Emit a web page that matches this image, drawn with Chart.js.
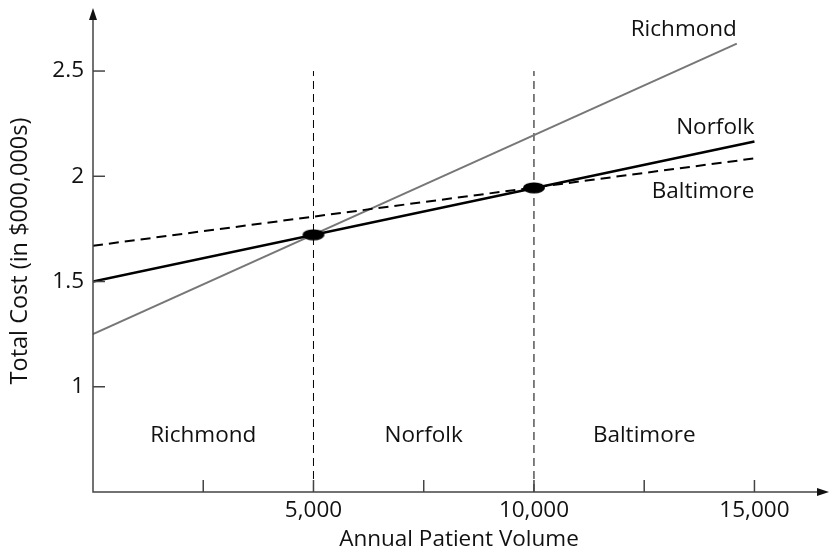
<!DOCTYPE html>
<html>
<head>
<meta charset="utf-8">
<script src="https://cdn.jsdelivr.net/npm/chart.js"></script>
<style>
  body { margin: 0; background: #fff; }
  #wrap { width: 832px; height: 558px; position: relative; }
</style>
</head>
<body>
<div id="wrap"><canvas id="costChart"></canvas></div>
<script>
// volumes in patients per year, costs in $000,000s
const volumeTicks = [2500, 5000, 7500, 10000, 12500, 15000];
const volumeLabels = [5000, 10000, 15000];
const costTicks = [1, 1.5, 2, 2.5];

const richmondX = [0, 14600];
const richmondY = [1.25, 2.63];
const norfolkX = [0, 15000];
const norfolkY = [1.5, 2.165];
const baltimoreX = [0, 15000];
const baltimoreY = [1.67, 2.085];

const breakEvenX = [5000, 10000];
const breakEvenY = [1.722, 1.945];
const cutoffTop = 2.5;

const regionNames = ['Richmond', 'Norfolk', 'Baltimore'];
const regionCenters = [2500, 7500, 12500];
const regionLevel = 0.77;

const FONT = '"Open Sans", "Noto Sans", sans-serif';
const FSIZE = 22.5;
const AXIS = '#444';

function pts(xs, ys) { return xs.map((x, i) => ({ x: x, y: ys[i] })); }

// elliptical dot for the break-even points
const dot = document.createElement('canvas');
dot.width = 24; dot.height = 12;
(function () {
  const c = dot.getContext('2d');
  c.fillStyle = '#000';
  c.beginPath();
  c.ellipse(12, 6, 11, 5.5, 0, 0, Math.PI * 2);
  c.fill();
})();

const cutoffSets = breakEvenX.map(x => ({
  data: [{ x: x, y: 0.5 }, { x: x, y: cutoffTop }],
  borderColor: '#000', borderWidth: 1, borderDash: [8, 5],
  pointRadius: 0, order: 5
}));

const decorations = {
  id: 'decorations',
  afterDraw(chart) {
    const ctx = chart.ctx;
    const xs = chart.scales.x, ys = chart.scales.y;
    const area = chart.chartArea;
    ctx.save();
    // axis lines with arrowheads
    ctx.strokeStyle = AXIS; ctx.fillStyle = '#111'; ctx.lineWidth = 1.5;
    ctx.beginPath();
    ctx.moveTo(area.left, area.top + 4); ctx.lineTo(area.left, area.bottom);
    ctx.lineTo(area.right, area.bottom);
    ctx.stroke();
    ctx.beginPath();
    ctx.moveTo(area.left, area.top - 2);
    ctx.lineTo(area.left - 4, area.top + 10);
    ctx.lineTo(area.left + 4, area.top + 10);
    ctx.closePath(); ctx.fill();
    ctx.beginPath();
    ctx.moveTo(area.right + 4, area.bottom);
    ctx.lineTo(area.right - 8, area.bottom - 4);
    ctx.lineTo(area.right - 8, area.bottom + 4);
    ctx.closePath(); ctx.fill();
    // inward tick marks
    ctx.lineWidth = 1.5; ctx.strokeStyle = AXIS;
    volumeTicks.forEach(v => {
      const px = xs.getPixelForValue(v);
      ctx.beginPath(); ctx.moveTo(px, area.bottom); ctx.lineTo(px, area.bottom - 12); ctx.stroke();
    });
    costTicks.forEach(v => {
      const py = ys.getPixelForValue(v);
      ctx.beginPath(); ctx.moveTo(area.left, py); ctx.lineTo(area.left + 12, py); ctx.stroke();
    });
    // line labels
    ctx.fillStyle = '#111';
    ctx.font = FSIZE + 'px ' + FONT;
    ctx.textAlign = 'right'; ctx.textBaseline = 'middle';
    ctx.fillText('Richmond', xs.getPixelForValue(richmondX[1]), ys.getPixelForValue(richmondY[1]) - 14);
    ctx.fillText('Norfolk', xs.getPixelForValue(norfolkX[1]), ys.getPixelForValue(norfolkY[1]) - 14);
    ctx.fillText('Baltimore', xs.getPixelForValue(baltimoreX[1]), ys.getPixelForValue(baltimoreY[1]) + 33);
    // region labels
    ctx.textAlign = 'center';
    regionNames.forEach((name, i) => {
      ctx.fillText(name, xs.getPixelForValue(regionCenters[i]), ys.getPixelForValue(regionLevel));
    });
    ctx.restore();
  }
};

new Chart(document.getElementById('costChart'), {
  type: 'line',
  data: {
    datasets: [
      { label: 'Richmond', data: pts(richmondX, richmondY), borderColor: '#777', borderWidth: 2, pointRadius: 0, order: 3 },
      { label: 'Baltimore', data: pts(baltimoreX, baltimoreY), borderColor: '#000', borderWidth: 2, borderDash: [10, 6], pointRadius: 0, order: 2 },
      { label: 'Norfolk', data: pts(norfolkX, norfolkY), borderColor: '#000', borderWidth: 2.5, pointRadius: 0, order: 1 },
      { label: 'Break-even', data: pts(breakEvenX, breakEvenY), showLine: false, pointStyle: dot, pointRadius: 6, order: 0 },
      ...cutoffSets
    ]
  },
  options: {
    responsive: true,
    maintainAspectRatio: false,
    animation: false,
    layout: { padding: { top: 10, right: 4, left: 0, bottom: 0 } },
    plugins: { legend: { display: false }, tooltip: { enabled: false } },
    scales: {
      x: {
        type: 'linear', min: 0, max: 16600,
        grid: { display: false, drawTicks: false },
        border: { display: false },
        afterFit(scale) { scale.height = 66; scale.paddingRight = 0; scale.paddingLeft = 0; },
        afterBuildTicks(scale) { scale.ticks = volumeLabels.map(v => ({ value: v })); },
        ticks: {
          padding: 5, color: '#111', font: { family: FONT, size: FSIZE },
          callback: v => v.toLocaleString('en-US')
        },
        title: { display: true, text: 'Annual Patient Volume', color: '#111', font: { family: FONT, size: FSIZE }, padding: { top: 0, bottom: 5 } }
      },
      y: {
        type: 'linear', min: 0.5, max: 2.79,
        grid: { display: false, drawTicks: false },
        border: { display: false },
        afterFit(scale) { scale.width = 93; scale.paddingTop = 0; scale.paddingBottom = 0; },
        afterBuildTicks(scale) { scale.ticks = costTicks.map(v => ({ value: v })); },
        ticks: { padding: 9, color: '#111', font: { family: FONT, size: FSIZE }, callback: v => String(v) },
        title: { display: true, text: 'Total Cost (in $000,000s)', color: '#111', font: { family: FONT, size: 23.5 }, padding: { top: 6, bottom: 0 } }
      }
    }
  },
  plugins: [decorations]
});
</script>
</body>
</html>
